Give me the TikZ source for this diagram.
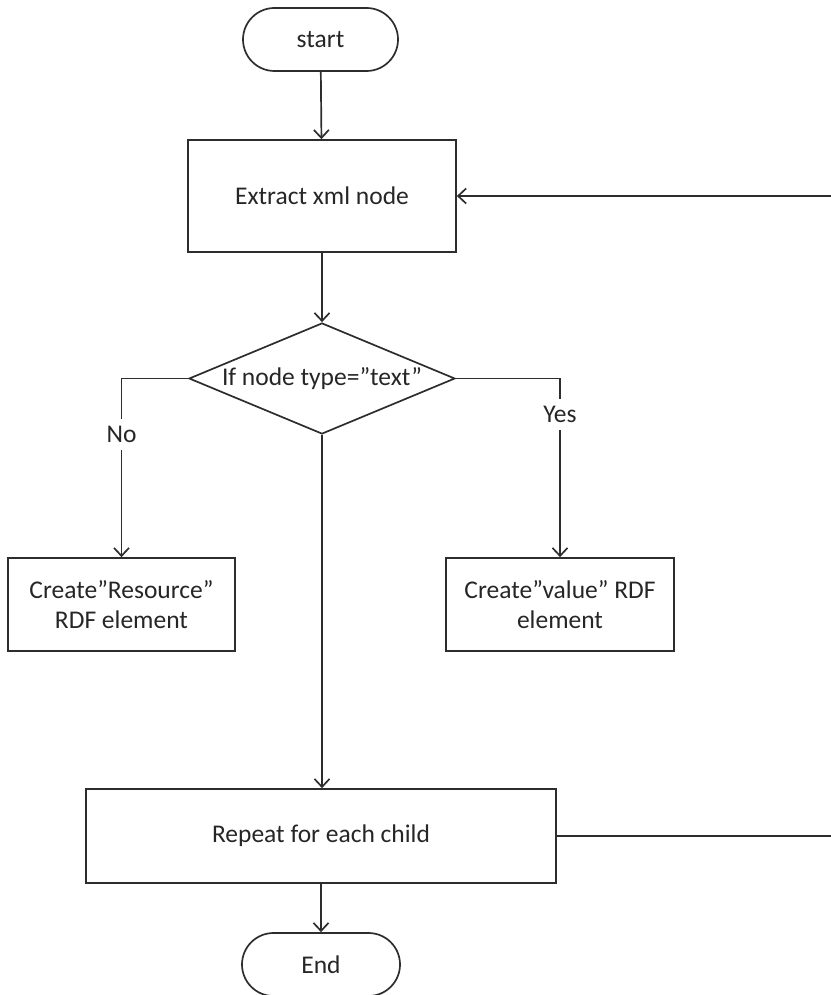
\documentclass[tikz,border=0pt]{standalone}
\usepackage{fontspec}
\setmainfont{Carlito}
\usetikzlibrary{shapes.geometric,shapes.misc,arrows.meta}
\definecolor{ln}{RGB}{45,45,45}
\definecolor{tx}{RGB}{38,38,38}
\begin{document}
\begin{tikzpicture}[x=1pt,y=-1pt,
  every node/.style={font=\fontsize{25.5}{30}\selectfont, text=tx},
  box/.style={draw=ln, line width=1.7pt, rectangle, inner sep=0pt, align=center},
  term/.style={draw=ln, line width=1.7pt, rounded rectangle, inner sep=0pt},
  dec/.style={draw=ln, line width=1.7pt, diamond, aspect=2.4, inner sep=0pt},
  arr/.style={draw=ln, line width=1.7pt, -{Straight Barb[length=8pt,width=15pt]}},
  lbl/.style={fill=white, inner sep=7pt}]
\useasboundingbox (0,0) rectangle (830,995);
\node[term, minimum width=155pt, minimum height=63pt] (start) at (320.5,39.5) {start};
\node[box, minimum width=268pt, minimum height=112pt] (extract) at (322,196) {Extract xml node};
\node[dec, minimum width=266pt, minimum height=111pt] (dia) at (322,378.5) {If node type=”text”};
\node[box, minimum width=227pt, minimum height=93pt] (res) at (121.5,604.5) {Create”Resource”\\RDF element};
\node[box, minimum width=228pt, minimum height=93pt] (val) at (560,604.5) {Create”value” RDF\\element};
\node[box, minimum width=470pt, minimum height=94pt] (rep) at (321,836) {Repeat for each child};
\node[term, minimum width=158pt, minimum height=63pt] (end) at (321,964.5) {End};
\coordinate (loopA) at (836,836);
\coordinate (loopB) at (836,196);

\draw[arr] (start) -- (extract);
\draw[arr] (extract) -- (dia);
\draw[arr] (dia.west) -| node[lbl, pos=0.657] {No} (res.north);
\draw[arr] (dia.east) -| node[lbl, pos=0.60] {Yes} (val.north);
\draw[arr] (dia.south) -- (rep.north -| dia.south);
\draw[arr] (rep.south -| end.north) -- (end.north);
\draw[arr] (rep.east) -- (loopA) -- (loopB) -- (extract.east);
\end{tikzpicture}
\end{document}
